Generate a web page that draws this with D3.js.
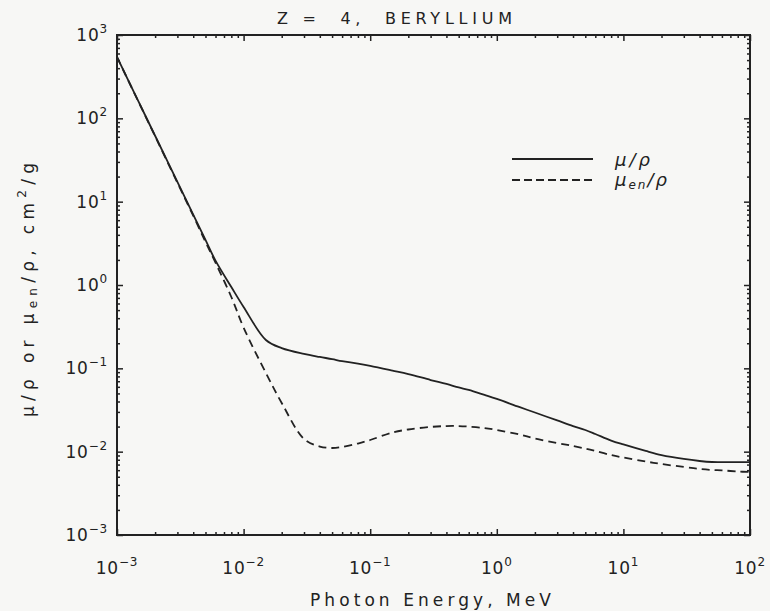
<!DOCTYPE html>
<html>
<head>
<meta charset="utf-8">
<script src="https://cdn.jsdelivr.net/npm/d3@7"></script>
<style>
  html, body { margin: 0; padding: 0; background: #f7f7f5; }
  svg { display: block; }
  text { font-family: "DejaVu Sans", "Liberation Sans", sans-serif; fill: #222; }
</style>
</head>
<body>
<svg id="chart" width="770" height="611"></svg>
<script>
// ---- data ----
const energies = [0.001, 0.0015, 0.002, 0.003, 0.004, 0.005, 0.006, 0.008, 0.01, 0.015, 0.02, 0.03, 0.04, 0.05, 0.06, 0.08,
  0.1, 0.15, 0.2, 0.3, 0.4, 0.5, 0.6, 0.8, 1, 1.5, 2, 3, 4, 5, 6, 8, 10, 15, 20, 30, 40, 50, 60, 80, 100];
const muRho = [545, 152, 61.8, 17.3, 7.0, 3.48, 1.96, 0.946, 0.545, 0.219, 0.175, 0.149, 0.137, 0.129, 0.122, 0.114,
  0.107, 0.094, 0.0855, 0.0724, 0.0649, 0.0589, 0.055, 0.0479, 0.0429, 0.0344, 0.0295, 0.0237, 0.0203, 0.0182, 0.0163, 0.0136,
  0.0122, 0.0102, 0.0091, 0.00817, 0.00773, 0.00752, 0.0075, 0.0075, 0.0075];
const muEnRho = [543, 151, 61, 16.9, 6.8, 3.3, 1.85, 0.718, 0.308, 0.0879, 0.0384, 0.0142, 0.01153, 0.01107, 0.01138, 0.01253,
  0.0138, 0.017, 0.01845, 0.0198, 0.0203, 0.0203, 0.02, 0.0192, 0.0182, 0.0161, 0.0144, 0.0127, 0.0117, 0.0109, 0.0102, 0.0091,
  0.0085, 0.00762, 0.00711, 0.00655, 0.0062, 0.00603, 0.00596, 0.00578, 0.0057];
const xTickExps = [-3, -2, -1, 0, 1, 2];
const yTickExps = [-3, -2, -1, 0, 1, 2, 3];
const titleText = "Z =  4,  BERYLLIUM";
const xLabelText = "Photon Energy, MeV";

// ---- layout ----
const svg = d3.select("#chart");
const L = 117, R = 750, T = 35, B = 535;
const ink = "#222";

const x = d3.scaleLog().domain([1e-3, 1e2]).range([L, R]);
const y = d3.scaleLog().domain([1e-3, 1e3]).range([B, T]);

function minorTicks(exps) {
  const out = [];
  for (let i = 0; i < exps.length - 1; i++)
    for (let k = 2; k <= 9; k++) out.push(k * Math.pow(10, exps[i]));
  return out;
}
const xMajor = xTickExps.map(e => Math.pow(10, e));
const yMajor = yTickExps.map(e => Math.pow(10, e));

// ticks (inward) on all four sides
function addAxis(gen, transform, vals, size) {
  const g = svg.append("g").attr("transform", transform)
    .call(gen.tickValues(vals).tickSize(-size).tickFormat(""));
  g.select(".domain").remove();
  g.selectAll("line").attr("stroke", ink).attr("stroke-width", 1.5);
}
addAxis(d3.axisBottom(x), `translate(0,${B})`, xMajor, 6);
addAxis(d3.axisBottom(x), `translate(0,${B})`, minorTicks(xTickExps), 3);
addAxis(d3.axisTop(x), `translate(0,${T})`, xMajor, 6);
addAxis(d3.axisTop(x), `translate(0,${T})`, minorTicks(xTickExps), 3);
addAxis(d3.axisLeft(y), `translate(${L},0)`, yMajor, 6);
addAxis(d3.axisLeft(y), `translate(${L},0)`, minorTicks(yTickExps), 3);
addAxis(d3.axisRight(y), `translate(${R},0)`, yMajor, 6);
addAxis(d3.axisRight(y), `translate(${R},0)`, minorTicks(yTickExps), 3);

// frame
svg.append("rect").attr("x", L).attr("y", T).attr("width", R - L).attr("height", B - T)
  .attr("fill", "none").attr("stroke", ink).attr("stroke-width", 2);

// tick labels
function powLabel(sel, exp) {
  sel.append("tspan").text("10");
  sel.append("tspan").attr("dy", -8).attr("font-size", 12).text(exp < 0 ? "\u2212" + (-exp) : String(exp));
}
xTickExps.forEach(e => {
  const t = svg.append("text").attr("x", x(Math.pow(10, e))).attr("y", 574)
    .attr("text-anchor", "middle").attr("font-size", 17).attr("letter-spacing", 0.8);
  powLabel(t, e);
});
yTickExps.forEach(e => {
  const t = svg.append("text").attr("x", 108).attr("y", y(Math.pow(10, e)) + 6)
    .attr("text-anchor", "end").attr("font-size", 17).attr("letter-spacing", 0.8);
  powLabel(t, e);
});

// title and axis labels
svg.append("text").attr("x", 277).attr("y", 24).attr("text-anchor", "start")
  .attr("font-size", 16).attr("xml:space", "preserve")
  .attr("textLength", 235).attr("lengthAdjust", "spacing").text(titleText);
svg.append("text").attr("x", 310).attr("y", 606).attr("text-anchor", "start")
  .attr("font-size", 17).attr("textLength", 241).attr("lengthAdjust", "spacing").text(xLabelText);

const yl = svg.append("text").attr("transform", "translate(34,417) rotate(-90)")
  .attr("text-anchor", "start").attr("font-size", 17)
  .attr("xml:space", "preserve").attr("textLength", 254).attr("lengthAdjust", "spacing");
yl.append("tspan").text("\u03bc/\u03c1 or \u03bc");
yl.append("tspan").attr("font-size", 12).attr("dy", 3).text("en");
yl.append("tspan").attr("dy", -3).text("/\u03c1, cm");
yl.append("tspan").attr("font-size", 12).attr("dy", -8).text("2");
yl.append("tspan").attr("dy", 8).text("/g");

// curves
const solidData = energies.map((e, i) => ({ e, v: muRho[i] }));
const dashData = energies.map((e, i) => ({ e, v: muEnRho[i] }));
const line = d3.line().x(d => x(d.e)).y(d => y(d.v)).curve(d3.curveCatmullRom.alpha(0.5));

svg.append("path").datum(solidData).attr("d", line)
  .attr("fill", "none").attr("stroke", ink).attr("stroke-width", 1.8);
svg.append("path").datum(dashData).attr("d", line)
  .attr("fill", "none").attr("stroke", ink).attr("stroke-width", 1.8).attr("stroke-dasharray", "8,5");

// legend
const legend = svg.append("g");
legend.append("line").attr("x1", 512).attr("x2", 593).attr("y1", 159).attr("y2", 159)
  .attr("stroke", ink).attr("stroke-width", 1.8);
legend.append("line").attr("x1", 512).attr("x2", 593).attr("y1", 180).attr("y2", 180)
  .attr("stroke", ink).attr("stroke-width", 1.8).attr("stroke-dasharray", "8,4");
legend.append("text").attr("x", 615).attr("y", 166).attr("font-size", 18)
  .attr("font-style", "italic").attr("letter-spacing", 3).text("\u03bc/\u03c1");
const l2 = legend.append("text").attr("x", 615).attr("y", 186).attr("font-size", 18)
  .attr("font-style", "italic").attr("letter-spacing", 2);
l2.append("tspan").text("\u03bc");
l2.append("tspan").attr("font-size", 12).attr("dy", 3).text("en");
l2.append("tspan").attr("dy", -3).text("/\u03c1");
</script>
</body>
</html>
